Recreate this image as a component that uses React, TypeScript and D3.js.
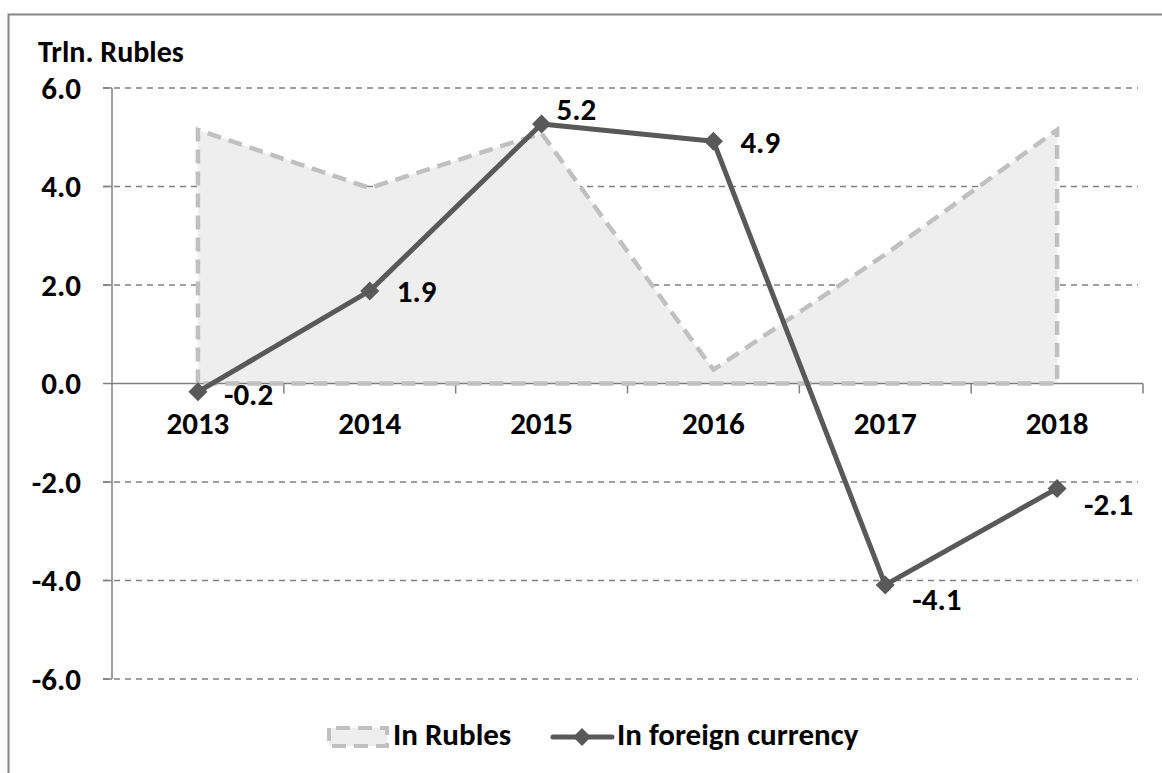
import React from "react";
import * as d3 from "d3";

const categories = ["2013", "2014", "2015", "2016", "2017", "2018"];
const inRubles = [5.15, 3.97, 5.08, 0.28, 2.62, 5.15];
const inForeign = [-0.17, 1.88, 5.27, 4.92, -4.09, -2.13];
const foreignLabels = ["-0.2", "1.9", "5.2", "4.9", "-4.1", "-2.1"];
const yTicks = [6, 4, 2, 0, -2, -4, -6];
// label nudges (dx, dy) relative to point
const labelNudge: [number, number][] = [
  [26, 3],
  [27, 1],
  [15, -14],
  [27, 2],
  [27, 15],
  [27, 17],
];

const W = 1162;
const H = 773;
const FONT = "Carlito, Calibri, Lato, 'Open Sans', sans-serif";
const FS = 31;

export default function App() {
  const left = 112;
  const right = 1143;
  const x = d3.scaleBand<string>().domain(categories).range([left, right]).padding(0);
  const cx = (c: string) => (x(c) as number) + x.bandwidth() / 2;
  const y = d3.scaleLinear().domain([-6, 6]).range([679, 88]);

  const area = d3
    .area<number>()
    .x((_, i) => cx(categories[i]))
    .y0(() => y(0))
    .y1((d) => y(d));
  const areaPts = inRubles.map((v, i) => [cx(categories[i]), y(v)] as [number, number]);
  const outline =
    `M${cx(categories[0])},${y(0)}` +
    areaPts.map((p) => `L${p[0]},${p[1]}`).join("") +
    `L${cx(categories[categories.length - 1])},${y(0)}Z`;

  const line = d3
    .line<number>()
    .x((_, i) => cx(categories[i]))
    .y((d) => y(d));

  const diamond = (px: number, py: number, r: number) =>
    `M${px},${py - r}L${px + r},${py}L${px},${py + r}L${px - r},${py}Z`;

  const lineColor = "#595959";
  const gridColor = "#808080";

  return (
    <svg
      width={W}
      height={H}
      style={{ position: "absolute", left: 0, top: 0, background: "#fff" }}
      fontFamily={FONT}
    >
      <rect x={8.5} y={14.5} width={1200} height={800} fill="none" stroke="#858585" strokeWidth={2} />
      <text x={38} y={62} fontSize={30} fontWeight="bold" fill="#000">
        Trln. Rubles
      </text>

      {/* gridlines */}
      {yTicks
        .filter((t) => t !== 0)
        .map((t) => (
          <line
            key={t}
            x1={103}
            x2={1138}
            y1={y(t)}
            y2={y(t)}
            stroke={gridColor}
            strokeWidth={1.5}
            strokeDasharray="6,5"
          />
        ))}

      {/* area */}
      <path d={area(inRubles) || ""} fill="#eeeeee" />

      {/* axes */}
      <line x1={left} x2={left} y1={y(6)} y2={y(-6)} stroke={gridColor} strokeWidth={1.5} />
      {yTicks.map((t) => (
        <g key={"yt" + t}>
          <line x1={103} x2={left} y1={y(t)} y2={y(t)} stroke={gridColor} strokeWidth={1.5} />
          <text
            x={81}
            y={y(t)}
            dy="0.34em"
            textAnchor="end"
            fontSize={FS}
            fontWeight="bold"
            fill="#000"
          >
            {t.toFixed(1)}
          </text>
        </g>
      ))}
      <line x1={left} x2={right} y1={y(0)} y2={y(0)} stroke={gridColor} strokeWidth={1.5} />
      {categories.map((c) => (
        <line
          key={"xt" + c}
          x1={(x(c) as number) + x.bandwidth()}
          x2={(x(c) as number) + x.bandwidth()}
          y1={y(0)}
          y2={y(0) + 10}
          stroke={gridColor}
          strokeWidth={1.5}
        />
      ))}
      {categories.map((c) => (
        <text
          key={"xl" + c}
          x={cx(c)}
          y={434}
          textAnchor="middle"
          fontSize={FS}
          fontWeight="bold"
          fill="#000"
        >
          {c}
        </text>
      ))}

      {/* area outline dashed */}
      <path
        d={outline}
        fill="none"
        stroke="#c0c0c0"
        strokeWidth={4.5}
        strokeDasharray="14,8"
        strokeLinejoin="miter"
      />

      {/* foreign currency line */}
      <path d={line(inForeign) || ""} fill="none" stroke={lineColor} strokeWidth={5} strokeLinejoin="round" />
      {inForeign.map((v, i) => (
        <path key={"m" + i} d={diamond(cx(categories[i]), y(v), 9.5)} fill={lineColor} />
      ))}
      {inForeign.map((v, i) => (
        <text
          key={"dl" + i}
          x={cx(categories[i]) + labelNudge[i][0]}
          y={y(v) + labelNudge[i][1]}
          dy="0.32em"
          fontSize={FS}
          fontWeight="bold"
          fill="#000"
        >
          {foreignLabels[i]}
        </text>
      ))}

      {/* legend */}
      <g>
        <rect x={329} y={728} width={58} height={18} fill="#eeeeee" />
        <rect
          x={329}
          y={728}
          width={58}
          height={18}
          fill="none"
          stroke="#c0c0c0"
          strokeWidth={4}
          strokeDasharray="14,8"
          strokeDashoffset={-7}
        />
        <text x={393} y={745} fontSize={FS} fontWeight="bold" fill="#000">
          In Rubles
        </text>
        <line x1={553} x2={612} y1={737} y2={737} stroke={lineColor} strokeWidth={5} strokeLinecap="round" />
        <path d={diamond(582, 737, 9)} fill={lineColor} />
        <text x={617} y={745} fontSize={FS} fontWeight="bold" fill="#000">
          In foreign currency
        </text>
      </g>
    </svg>
  );
}
